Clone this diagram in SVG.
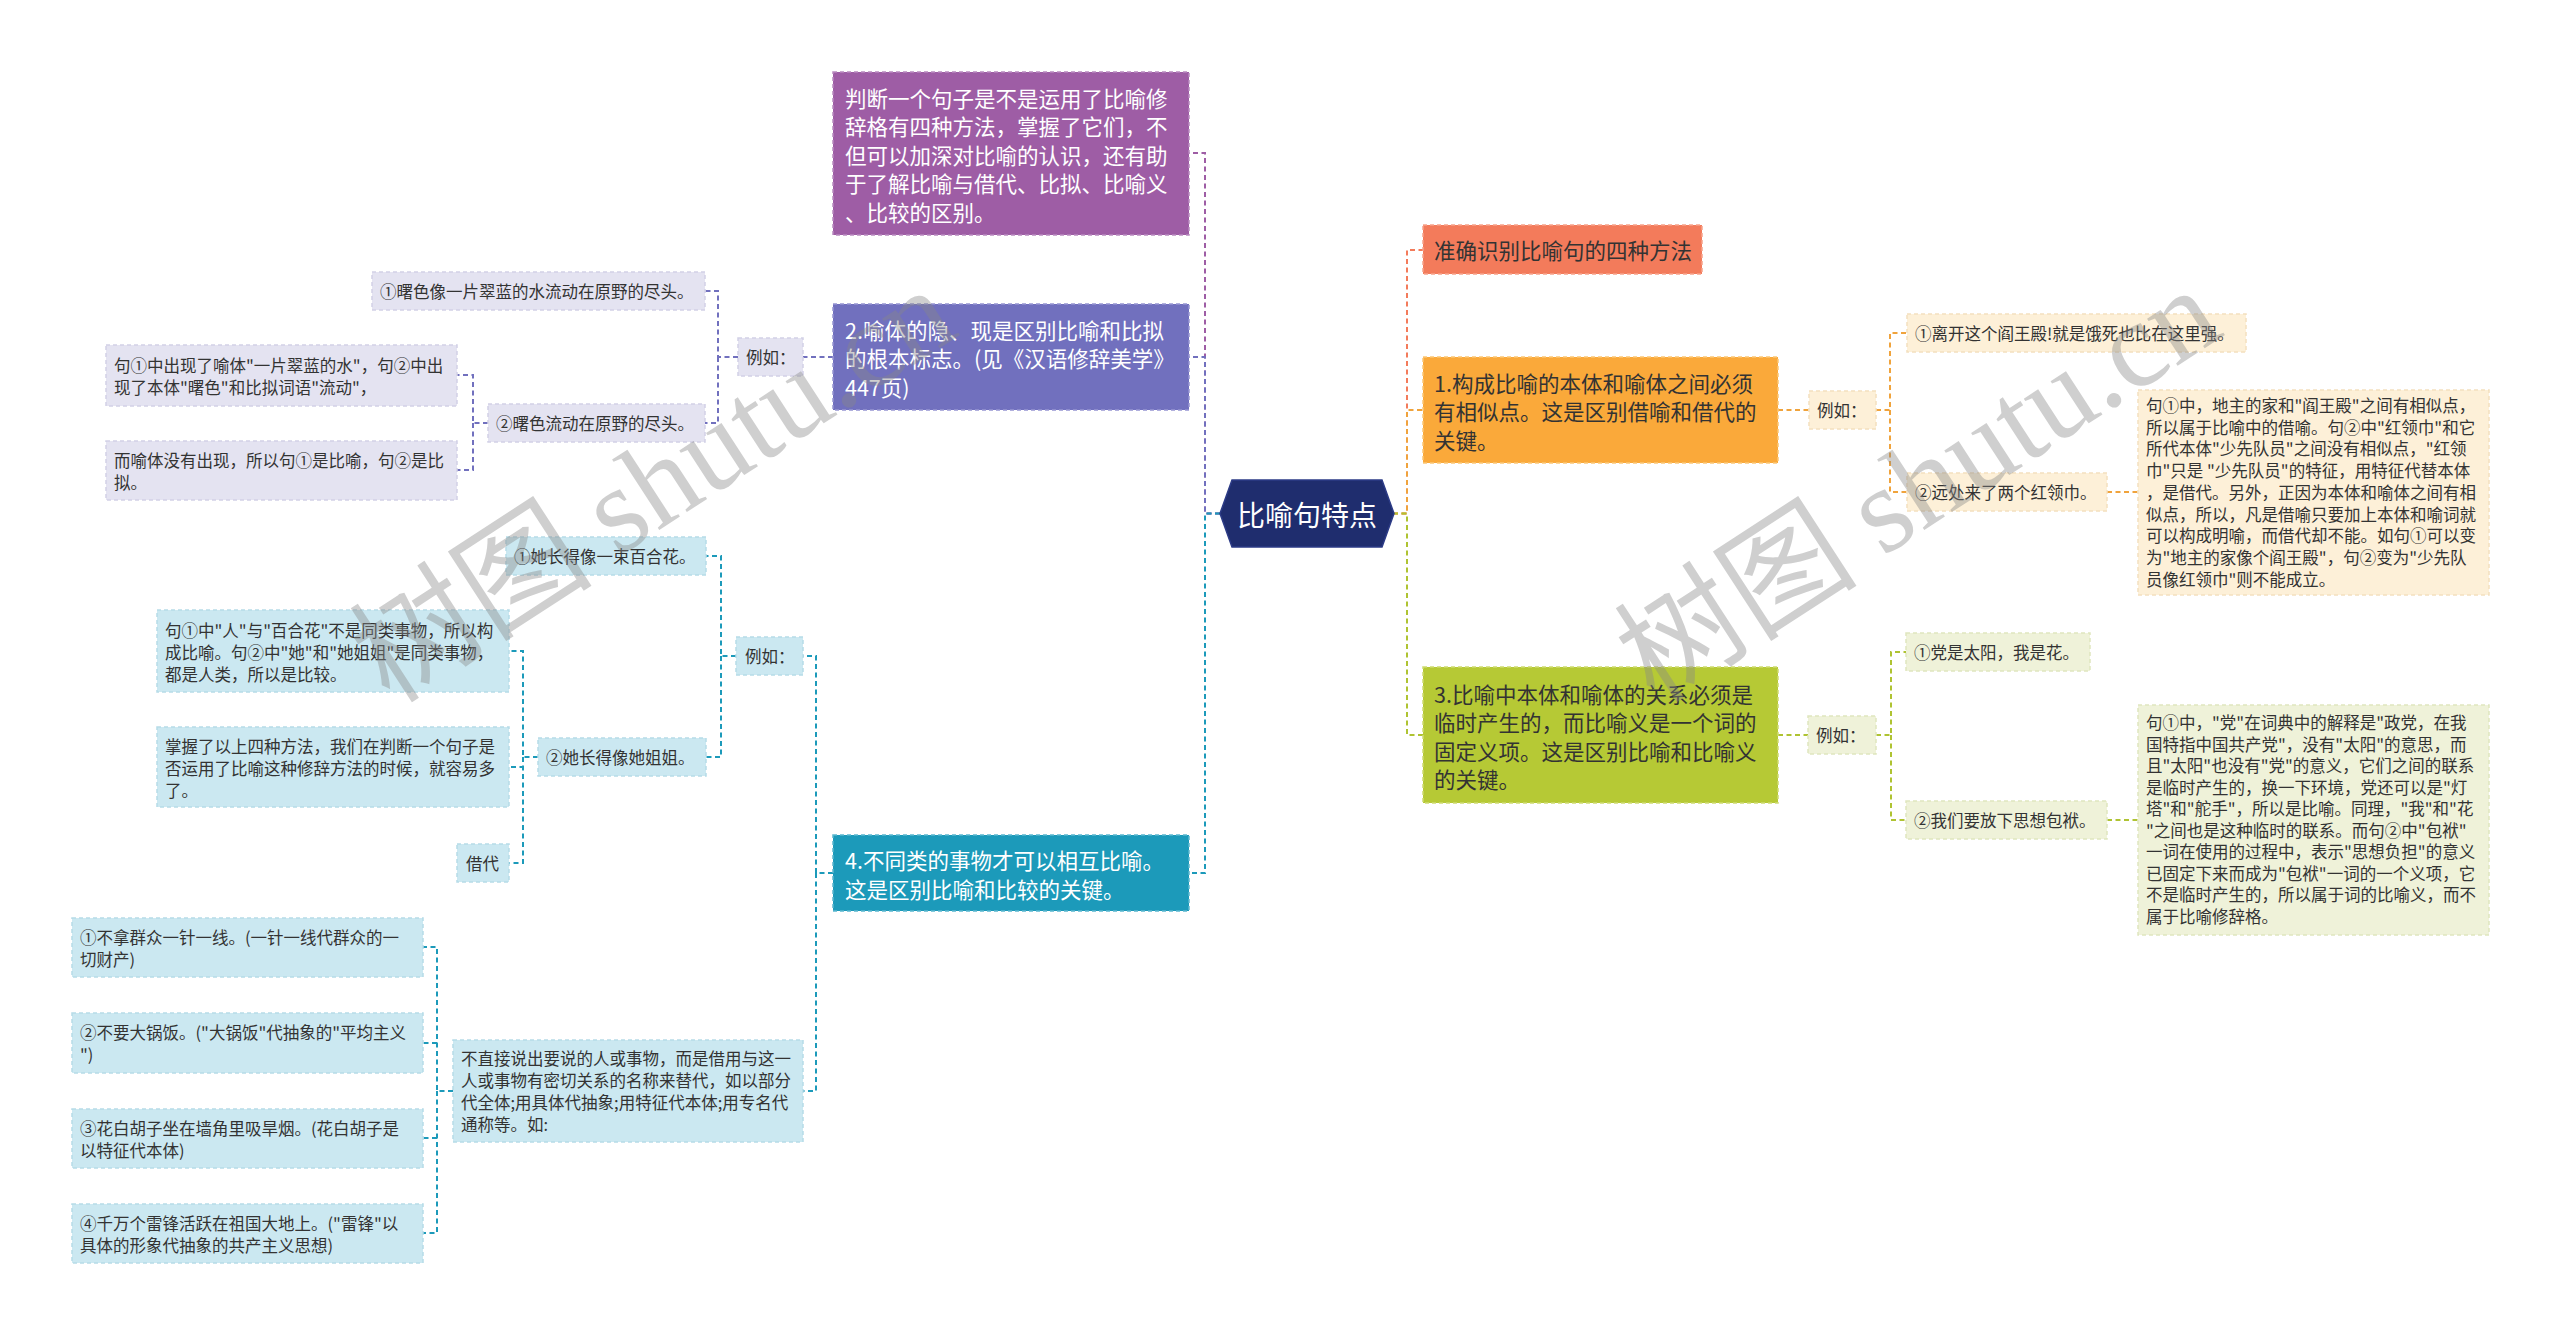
<svg xmlns="http://www.w3.org/2000/svg" width="2560" height="1335" viewBox="0 0 2560 1335">
<style>
text{font-family:"Noto Sans CJK SC","Noto Sans",sans-serif;dominant-baseline:central}
.c{fill:none;stroke-width:2;stroke-dasharray:5 3.5}
.cp{stroke:#9E5DA5}.cb{stroke:#7170BE}.ct{stroke:#1C9ABA}.cr{stroke:#F37B5B}.co{stroke:#F0A33C}.cg{stroke:#AFC332}
.nb{stroke-width:1.5;stroke-dasharray:4 3}
.tw{fill:#fff;font-size:21.5px}
.td{fill:#333;font-size:21.5px}
.s{fill:#333;font-size:16.5px}
.lav{fill:#E4E3F1;stroke:#D2D1E6}
.lbl{fill:#CBE8F1;stroke:#B6DCE8}
.bei{fill:#FDF0D8;stroke:#F3E0BE}
.lgr{fill:#EFF2D9;stroke:#E0E6BE}
.wm{font-size:122px;fill:#888;opacity:0.4;dominant-baseline:alphabetic}
.wm tspan{font-family:"Liberation Serif",serif}
</style>
<rect width="2560" height="1335" fill="#fff"/>
<g id="connectors">
<path class="c cp" d="M1220 513.5H1205V153H1189"/>
<path class="c cb" d="M1220 513.5H1205V357H1189"/>
<path class="c ct" d="M1220 513.5H1205V873H1189"/>
<path class="c cr" d="M1393 513.5H1407V250H1423"/>
<path class="c co" d="M1393 513.5H1407V410H1423"/>
<path class="c cg" d="M1393 513.5H1407V735H1423"/>
<path class="c cb" d="M833 357H803M738 357H718V291H705M718 357V423H705M488 423H473V375H457M473 423V470H457"/>
<path class="c ct" d="M833 873H816V656H803M816 873V1091H803M736 656H721V556H706M721 656V757H706M538 757H523V651H509M523 757V767H509M523 757V863H509M453 1091H437V947H423M437 1043H423M437 1091V1233H423M437 1138H423"/>
<path class="c co" d="M1778 410H1809M1876 410H1890V333H1907M1890 410V492H1907M2107 492H2138"/>
<path class="c cg" d="M1778 735H1808M1876 735H1891V652H1906M1891 735V820H1906M2107 820H2138"/>
</g>
<g id="root">
<polygon points="1220,513.5 1232,480 1382,480 1394,513.5 1382,547 1232,547" fill="#1F2D6E" stroke="#2C3B86" stroke-width="1.5"/>
<text x="1307" y="513.5" text-anchor="middle" fill="#fff" font-size="28">比喻句特点</text>
</g>
<g id="node-purple">
<rect class="nb" x="833" y="72" width="356" height="163" fill="#9E5DA5" stroke="#B98BC0"/>
<text class="tw"><tspan x="845" y="96.5">判断一个句子是不是运用了比喻修</tspan><tspan x="845" y="125">辞格有四种方法，掌握了它们，不</tspan><tspan x="845" y="153.5">但可以加深对比喻的认识，还有助</tspan><tspan x="845" y="182">于了解比喻与借代、比拟、比喻义</tspan><tspan x="845" y="210.5">、比较的区别。</tspan></text>
</g>
<g id="node-2">
<rect class="nb" x="833" y="304" width="356" height="106" fill="#7170BE" stroke="#9695D2"/>
<text class="tw"><tspan x="845" y="328.5">2.喻体的隐、现是区别比喻和比拟</tspan><tspan x="845" y="357">的根本标志。(见《汉语修辞美学》</tspan><tspan x="845" y="385.5">447页)</tspan></text>
</g>
<g id="node-4">
<rect class="nb" x="833" y="835" width="356" height="76" fill="#1C9ABA" stroke="#5CB8D0"/>
<text class="tw"><tspan x="845" y="859">4.不同类的事物才可以相互比喻。</tspan><tspan x="845" y="887.5">这是区别比喻和比较的关键。</tspan></text>
</g>
<g id="node-methods">
<rect class="nb" x="1423" y="225" width="279" height="49" fill="#F37B5B" stroke="#F8A48C"/>
<text class="td" x="1434" y="249.5">准确识别比喻句的四种方法</text>
</g>
<g id="node-1">
<rect class="nb" x="1423" y="357" width="355" height="106" fill="#FAA93A" stroke="#FCC877"/>
<text class="td"><tspan x="1434" y="381.5">1.构成比喻的本体和喻体之间必须</tspan><tspan x="1434" y="410">有相似点。这是区别借喻和借代的</tspan><tspan x="1434" y="438.5">关键。</tspan></text>
</g>
<g id="node-3">
<rect class="nb" x="1423" y="667" width="355" height="136" fill="#B6C935" stroke="#CEDB72"/>
<text class="td"><tspan x="1434" y="692.5">3.比喻中本体和喻体的关系必须是</tspan><tspan x="1434" y="721">临时产生的，而比喻义是一个词的</tspan><tspan x="1434" y="749.5">固定义项。这是区别比喻和比喻义</tspan><tspan x="1434" y="778">的关键。</tspan></text>
</g>
<g id="node-2-eg">
<rect class="nb lav" x="738" y="338" width="65" height="38"/>
<text class="s" x="746" y="357">例如：</text>
</g>
<g id="node-2-eg1">
<rect class="nb lav" x="372" y="272" width="333" height="38"/>
<text class="s" x="380" y="291">①曙色像一片翠蓝的水流动在原野的尽头。</text>
</g>
<g id="node-2-eg2">
<rect class="nb lav" x="488" y="404" width="217" height="38"/>
<text class="s" x="496" y="423">②曙色流动在原野的尽头。</text>
</g>
<g id="node-2-eg2a">
<rect class="nb lav" x="106" y="345" width="351" height="61"/>
<text class="s"><tspan x="114" y="364.5">句①中出现了喻体"一片翠蓝的水"，句②中出</tspan><tspan x="114" y="386.5">现了本体"曙色"和比拟词语"流动"，</tspan></text>
</g>
<g id="node-2-eg2b">
<rect class="nb lav" x="106" y="441" width="351" height="59"/>
<text class="s"><tspan x="114" y="459.5">而喻体没有出现，所以句①是比喻，句②是比</tspan><tspan x="114" y="481.5">拟。</tspan></text>
</g>
<g id="node-4-eg">
<rect class="nb lbl" x="736" y="637" width="67" height="38"/>
<text class="s" x="745" y="656">例如：</text>
</g>
<g id="node-4-eg1">
<rect class="nb lbl" x="506" y="537" width="200" height="38"/>
<text class="s" x="514" y="556">①她长得像一束百合花。</text>
</g>
<g id="node-4-eg2">
<rect class="nb lbl" x="538" y="738" width="168" height="38"/>
<text class="s" x="546" y="757">②她长得像她姐姐。</text>
</g>
<g id="node-4-eg2a">
<rect class="nb lbl" x="157" y="610" width="352" height="82"/>
<text class="s"><tspan x="165" y="629.5">句①中"人"与"百合花"不是同类事物，所以构</tspan><tspan x="165" y="651.5">成比喻。句②中"她"和"她姐姐"是同类事物，</tspan><tspan x="165" y="673.5">都是人类，所以是比较。</tspan></text>
</g>
<g id="node-4-eg2b">
<rect class="nb lbl" x="157" y="727" width="352" height="80"/>
<text class="s"><tspan x="165" y="745.5">掌握了以上四种方法，我们在判断一个句子是</tspan><tspan x="165" y="767.5">否运用了比喻这种修辞方法的时候，就容易多</tspan><tspan x="165" y="789.5">了。</tspan></text>
</g>
<g id="node-4-eg2c">
<rect class="nb lbl" x="457" y="844" width="52" height="38"/>
<text class="s" x="466" y="863">借代</text>
</g>
<g id="node-4-def">
<rect class="nb lbl" x="453" y="1040" width="350" height="102"/>
<text class="s"><tspan x="461" y="1058">不直接说出要说的人或事物，而是借用与这一</tspan><tspan x="461" y="1080">人或事物有密切关系的名称来替代，如以部分</tspan><tspan x="461" y="1102">代全体;用具体代抽象;用特征代本体;用专名代</tspan><tspan x="461" y="1124">通称等。如:</tspan></text>
</g>
<g id="node-4-def1">
<rect class="nb lbl" x="72" y="918" width="351" height="59"/>
<text class="s"><tspan x="80" y="936.5">①不拿群众一针一线。(一针一线代群众的一</tspan><tspan x="80" y="958.5">切财产)</tspan></text>
</g>
<g id="node-4-def2">
<rect class="nb lbl" x="72" y="1013" width="351" height="60"/>
<text class="s"><tspan x="80" y="1032">②不要大锅饭。("大锅饭"代抽象的"平均主义</tspan><tspan x="80" y="1054">")</tspan></text>
</g>
<g id="node-4-def3">
<rect class="nb lbl" x="72" y="1109" width="351" height="59"/>
<text class="s"><tspan x="80" y="1127.5">③花白胡子坐在墙角里吸旱烟。(花白胡子是</tspan><tspan x="80" y="1149.5">以特征代本体)</tspan></text>
</g>
<g id="node-4-def4">
<rect class="nb lbl" x="72" y="1204" width="351" height="59"/>
<text class="s"><tspan x="80" y="1222.5">④千万个雷锋活跃在祖国大地上。("雷锋"以</tspan><tspan x="80" y="1244.5">具体的形象代抽象的共产主义思想)</tspan></text>
</g>
<g id="node-1-eg">
<rect class="nb bei" x="1809" y="391" width="67" height="38"/>
<text class="s" x="1817" y="410">例如：</text>
</g>
<g id="node-1-eg1">
<rect class="nb bei" x="1907" y="314" width="339" height="38"/>
<text class="s" x="1915" y="333">①离开这个阎王殿!就是饿死也比在这里强。</text>
</g>
<g id="node-1-eg2">
<rect class="nb bei" x="1907" y="473" width="200" height="38"/>
<text class="s" x="1915" y="492">②远处来了两个红领巾。</text>
</g>
<g id="node-1-eg2a">
<rect class="nb bei" x="2138" y="390" width="351" height="205"/>
<text class="s"><tspan x="2146" y="405">句①中，地主的家和"阎王殿"之间有相似点，</tspan><tspan x="2146" y="426.7">所以属于比喻中的借喻。句②中"红领巾"和它</tspan><tspan x="2146" y="448.4">所代本体"少先队员"之间没有相似点，"红领</tspan><tspan x="2146" y="470.1">巾"只是 "少先队员"的特征，用特征代替本体</tspan><tspan x="2146" y="491.8">，是借代。另外，正因为本体和喻体之间有相</tspan><tspan x="2146" y="513.5">似点，所以，凡是借喻只要加上本体和喻词就</tspan><tspan x="2146" y="535.2">可以构成明喻，而借代却不能。如句①可以变</tspan><tspan x="2146" y="556.9">为"地主的家像个阎王殿"，句②变为"少先队</tspan><tspan x="2146" y="578.6">员像红领巾"则不能成立。</tspan></text>
</g>
<g id="node-3-eg">
<rect class="nb lgr" x="1808" y="716" width="68" height="38"/>
<text class="s" x="1816" y="735">例如：</text>
</g>
<g id="node-3-eg1">
<rect class="nb lgr" x="1906" y="633" width="184" height="38"/>
<text class="s" x="1914" y="652">①党是太阳，我是花。</text>
</g>
<g id="node-3-eg2">
<rect class="nb lgr" x="1906" y="801" width="201" height="38"/>
<text class="s" x="1914" y="820">②我们要放下思想包袱。</text>
</g>
<g id="node-3-eg2a">
<rect class="nb lgr" x="2138" y="705" width="351" height="230"/>
<text class="s"><tspan x="2146" y="722">句①中，"党"在词典中的解释是"政党，在我</tspan><tspan x="2146" y="743.5">国特指中国共产党"，没有"太阳"的意思，而</tspan><tspan x="2146" y="765">且"太阳"也没有"党"的意义，它们之间的联系</tspan><tspan x="2146" y="786.5">是临时产生的，换一下环境，党还可以是"灯</tspan><tspan x="2146" y="808">塔"和"舵手"，所以是比喻。同理，"我"和"花</tspan><tspan x="2146" y="829.5">"之间也是这种临时的联系。而句②中"包袱"</tspan><tspan x="2146" y="851">一词在使用的过程中，表示"思想负担"的意义</tspan><tspan x="2146" y="872.5">已固定下来而成为"包袱"一词的一个义项，它</tspan><tspan x="2146" y="894">不是临时产生的，所以属于词的比喻义，而不</tspan><tspan x="2146" y="915.5">属于比喻修辞格。</tspan></text>
</g>
<g id="watermarks">
<text class="wm" x="390" y="705" transform="rotate(-33 390 705)">树图 <tspan>shutu.cn</tspan></text>
<text class="wm" x="1655" y="705" transform="rotate(-33 1655 705)">树图 <tspan>shutu.cn</tspan></text>
</g>
</svg>
